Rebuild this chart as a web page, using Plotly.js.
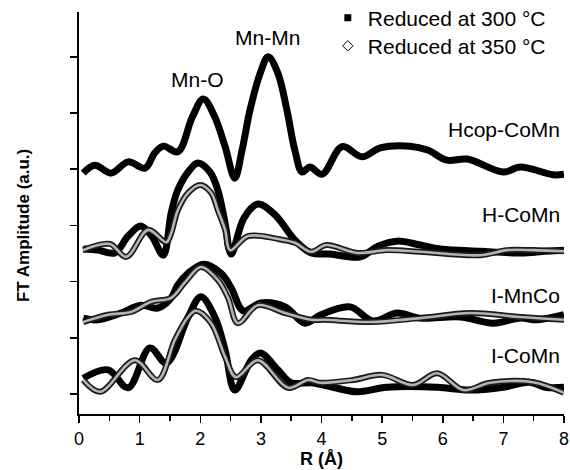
<!DOCTYPE html>
<html><head><meta charset="utf-8">
<script src="https://cdn.plot.ly/plotly-3.0.1.min.js"></script>
<style>html,body{margin:0;padding:0;background:#fff}#chart{width:570px;height:470px}</style>
</head><body><div id="chart"></div>
<script>
// Hcop-CoMn (300 °C only)
const hcopR = [0.07,0.26,0.53,0.81,1.09,1.25,1.39,1.63,1.87,2.05,2.24,2.41,2.57,2.69,2.82,2.99,3.12,3.28,3.43,3.56,3.68,3.81,4.01,4.34,4.67,4.97,5.46,5.75,6.07,6.40,7.00,7.28,7.82,8.00];
const hcop300 = [3.93,4.07,3.93,4.13,4.02,4.29,4.41,4.31,4.93,5.25,4.93,4.40,3.84,4.34,5.05,5.71,6.00,5.71,5.05,4.34,3.95,4.04,3.91,4.40,4.22,4.38,4.41,4.34,4.16,4.18,3.95,4.04,3.90,3.91];
// H-CoMn
const hR300 = [0.07,0.31,0.59,0.81,1.02,1.20,1.39,1.52,1.63,1.80,1.96,2.16,2.29,2.41,2.51,2.72,2.95,3.23,3.56,3.83,4.14,4.64,4.93,5.25,5.63,5.96,6.62,7.28,7.69,8.00];
const h300 = [2.58,2.56,2.51,2.81,2.99,2.81,2.47,3.22,3.63,3.95,4.11,3.95,3.63,3.04,2.49,3.13,3.38,3.19,2.74,2.51,2.49,2.44,2.63,2.72,2.65,2.58,2.54,2.51,2.54,2.56];
const hR350 = [0.07,0.51,0.78,1.14,1.44,1.52,1.63,1.80,2.00,2.18,2.29,2.41,2.49,2.79,3.28,3.56,3.83,4.08,4.59,5.08,5.63,6.62,7.06,7.49,8.00];
const h350 = [2.56,2.67,2.44,2.92,2.70,2.86,3.27,3.58,3.72,3.58,3.27,2.92,2.56,2.81,2.76,2.69,2.53,2.65,2.51,2.56,2.53,2.47,2.56,2.56,2.54];
// I-MnCo
const imR300 = [0.07,0.31,0.69,1.02,1.30,1.52,1.63,1.80,2.06,2.34,2.51,2.71,3.00,3.40,3.73,3.99,4.47,4.85,5.25,5.63,6.29,6.83,7.28,7.56,8.00];
const im300 = [1.35,1.32,1.44,1.58,1.53,1.71,1.94,2.15,2.31,2.15,1.89,1.48,1.62,1.55,1.26,1.41,1.55,1.30,1.44,1.35,1.37,1.26,1.35,1.32,1.41];
const imR350 = [0.07,0.48,0.86,1.19,1.52,1.75,2.01,2.29,2.46,2.62,2.95,3.40,3.83,4.06,4.80,5.63,6.45,7.28,8.00];
const im350 = [1.28,1.41,1.46,1.64,1.71,1.99,2.26,2.03,1.71,1.26,1.58,1.44,1.32,1.32,1.28,1.35,1.44,1.37,1.32];
// I-CoMn
const icR300 = [0.07,0.48,0.81,1.17,1.44,1.80,2.01,2.24,2.41,2.57,2.84,2.99,3.28,3.50,3.83,4.22,4.59,5.08,5.91,6.45,7.00,7.44,7.69,8.00];
const ic300 = [0.28,0.43,0.11,0.82,0.55,1.37,1.73,1.37,0.78,0.07,0.60,0.73,0.43,0.20,0.20,0.11,0.04,0.12,0.12,0.07,0.12,0.21,0.12,0.12];
const icR350 = [0.07,0.35,0.92,1.30,1.58,1.80,1.93,2.18,2.41,2.59,2.95,3.45,3.78,3.98,4.52,5.00,5.51,5.91,6.34,6.78,7.49,8.00];
const ic350 = [0.25,0.04,0.60,0.25,0.96,1.37,1.48,1.26,0.66,0.30,0.60,0.11,0.25,0.20,0.25,0.34,0.16,0.37,0.07,0.20,0.21,0.02];

const seriesNames = ["Reduced at 300 °C","Reduced at 350 °C"];
const sampleLabels = ["Hcop-CoMn","H-CoMn","I-MnCo","I-CoMn"];
const labelY = [4.70,3.19,1.76,0.69];
const peakLabels = ["Mn-O","Mn-Mn"];
const peakR = [1.95,3.11];
const peakY = [5.59,6.34];

const FONT = "Liberation Sans, Arial, Helvetica, sans-serif";
const traces = [];
function black(x,y){traces.push({x:x,y:y,type:"scatter",mode:"lines",line:{color:"#000",width:7,shape:"spline"},showlegend:false,hoverinfo:"skip"});}
function gray(x,y){
  traces.push({x:x,y:y,type:"scatter",mode:"lines",line:{color:"#1a1a1a",width:6,shape:"spline"},showlegend:false,hoverinfo:"skip"});
  traces.push({x:x,y:y,type:"scatter",mode:"lines",line:{color:"#b4b4b4",width:2.6,shape:"spline"},showlegend:false,hoverinfo:"skip"});
}
black(hcopR,hcop300);
black(hR300,h300);
black(imR300,im300);
black(icR300,ic300);
gray(hR350,h350);
gray(imR350,im350);
gray(icR350,ic350);
traces.push({x:[null],y:[null],type:"scatter",mode:"markers",name:seriesNames[0],legend:"legend",marker:{symbol:"square",size:7,color:"#000"}});
traces.push({x:[null],y:[null],type:"scatter",mode:"markers",name:seriesNames[1],legend:"legend2",marker:{symbol:"diamond-open",size:8,color:"#000",line:{width:1}}});

const annotations = [];
sampleLabels.forEach((t,i)=>annotations.push({x:7.97,y:labelY[i],xref:"x",yref:"y",text:t,showarrow:false,xanchor:"right",yanchor:"middle",font:{family:FONT,size:21,color:"#000"}}));
peakLabels.forEach((t,i)=>annotations.push({x:peakR[i],y:peakY[i],xref:"x",yref:"y",text:t,showarrow:false,xanchor:"center",yanchor:"middle",font:{family:FONT,size:21,color:"#000"}}));
annotations.push({x:-0.113,y:0.468,xref:"paper",yref:"paper",text:"<b>FT Amplitude (a.u.)</b>",textangle:-90,showarrow:false,xanchor:"center",yanchor:"middle",font:{family:FONT,size:17,color:"#000"}});

const legendBase = {x:0.513,xanchor:"left",yanchor:"middle",bgcolor:"rgba(0,0,0,0)",font:{family:FONT,size:21,color:"#000"}};
const layout = {
  width:570,height:470,
  margin:{l:79,r:6,t:12,b:56,autoexpand:false},
  paper_bgcolor:"#fff",plot_bgcolor:"#fff",
  font:{family:FONT,size:18,color:"#000"},
  showlegend:true,
  legend:Object.assign({},legendBase,{y:0.985}),
  legend2:Object.assign({},legendBase,{y:0.915}),
  xaxis:{range:[0,8],dtick:1,tick0:0,ticks:"outside",ticklen:7,tickwidth:1.5,tickcolor:"#000",
    minor:{dtick:0.5,ticks:"outside",ticklen:5,tickwidth:1.5,tickcolor:"#000"},
    showline:true,linecolor:"#000",linewidth:2,showgrid:false,zeroline:false,
    tickfont:{family:FONT,size:18,color:"#000"},
    title:{text:"<b>R (Å)</b>",font:{family:FONT,size:18,color:"#000"},standoff:2}},
  yaxis:{range:[-0.356,6.797],dtick:1,tick0:0,ticks:"outside",ticklen:7,tickwidth:1.5,tickcolor:"#000",
    showticklabels:false,showline:true,linecolor:"#000",linewidth:2,showgrid:false,zeroline:false},
  annotations:annotations
};
Plotly.newPlot("chart",traces,layout,{displayModeBar:false,staticPlot:true});
</script></body></html>
